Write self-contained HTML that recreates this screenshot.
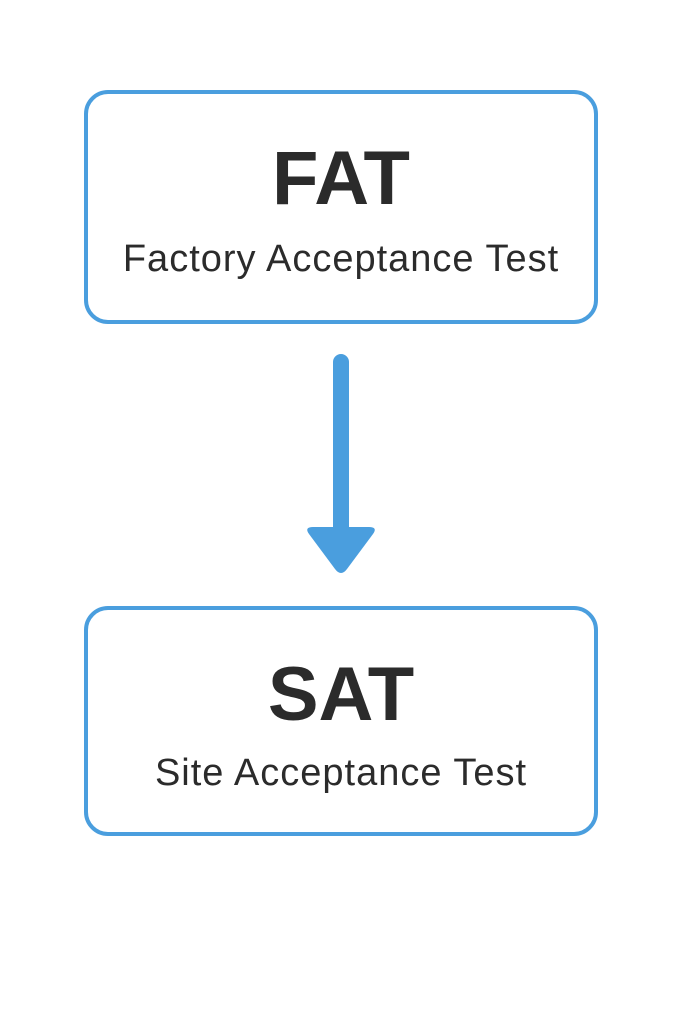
<!DOCTYPE html>
<html><head><style>
body{margin:0;width:683px;height:1024px;background:#fff;position:relative;overflow:hidden;font-family:"Liberation Sans",sans-serif;color:#2b2b2b}
.box{position:absolute;left:84px;width:506px;border:4px solid #4a9ede;border-radius:24px;box-sizing:content-box}
.t{position:absolute;left:0;right:0;text-align:center;white-space:nowrap}
.big{font-weight:bold;font-size:76px}
.sm{font-size:38px;letter-spacing:1px}
</style></head><body>
<div class="box" style="top:90px;height:226px">
 <div class="t big" style="top:41px">FAT</div>
 <div class="t sm" style="top:144px">Factory Acceptance Test</div>
</div>
<div class="box" style="top:606px;height:222px">
 <div class="t big" style="top:41px">SAT</div>
 <div class="t sm" style="top:142px">Site Acceptance Test</div>
</div>
<svg style="position:absolute;left:0;top:0" width="683" height="1024">
 <line x1="341" y1="362" x2="341" y2="535" stroke="#4a9ede" stroke-width="16" stroke-linecap="round"/>
 <path d="M313 527 L369 527 Q378 527 373 534 L347 569 Q341 577 335 569 L309 534 Q304 527 313 527 Z" fill="#4a9ede"/>
</svg>
</body></html>
